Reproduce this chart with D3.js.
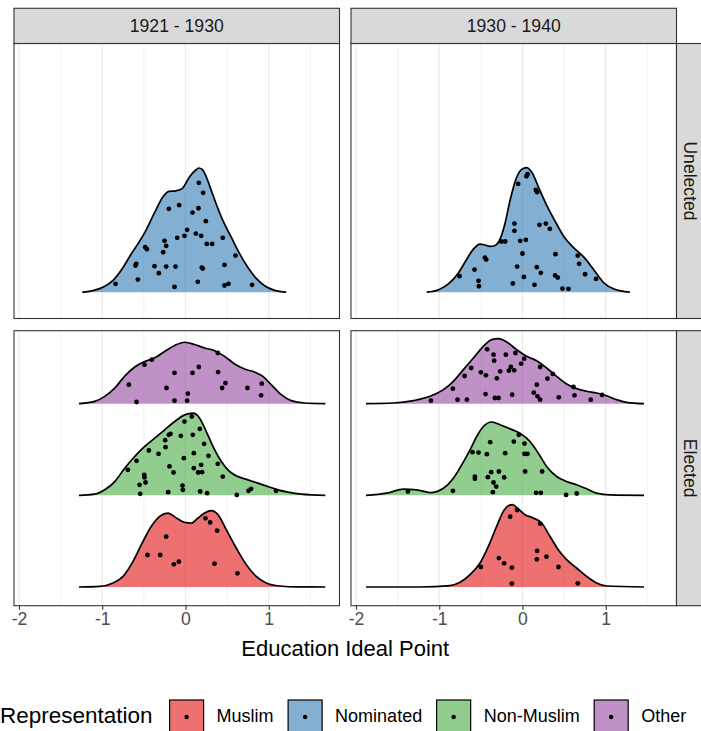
<!DOCTYPE html>
<html>
<head>
<meta charset="utf-8">
<title>Education Ideal Point</title>
<script src="https://cdn.jsdelivr.net/npm/d3@7"></script>
<style>
body { margin: 0; background: #fff; }
svg text { font-family: "Liberation Sans", Arial, sans-serif; }
</style>
</head>
<body>
<div id="chart"></div>
<script>
// facets, legend, ticks
var periods = ["1921 - 1930", "1930 - 1940"];
var chambers = ["Unelected", "Elected"];
var reps = ["Muslim", "Nominated", "Non-Muslim", "Other"];
var repColors = ["#E41A1C", "#377EB8", "#4DAF4A", "#984EA3"];
var xTicks = [-2, -1, 0, 1];
var xMinor = [-1.5, -0.5, 0.5, 1.5];

// density outlines: [ideal point, height in ridge units]
var densNominated1921 = [[-1.24,0],[-1.1,0.02],[-0.98,0.06],[-0.87,0.13],[-0.75,0.27],[-0.65,0.42],[-0.57,0.53],[-0.49,0.65],[-0.37,0.87],[-0.27,1.04],[-0.2,1.1],[-0.12,1.105],[-0.04,1.13],[0.05,1.26],[0.12,1.33],[0.16,1.355],[0.2,1.34],[0.24,1.28],[0.29,1.16],[0.37,0.96],[0.45,0.78],[0.55,0.6],[0.65,0.42],[0.75,0.27],[0.85,0.15],[0.95,0.07],[1.07,0.02],[1.21,0]];
var densNominated1930 = [[-1.15,0],[-1.0,0.03],[-0.89,0.09],[-0.77,0.21],[-0.67,0.36],[-0.59,0.47],[-0.51,0.525],[-0.45,0.515],[-0.39,0.5],[-0.33,0.51],[-0.27,0.58],[-0.21,0.75],[-0.15,1.0],[-0.08,1.23],[-0.01,1.34],[0.05,1.36],[0.11,1.31],[0.2,1.13],[0.3,0.93],[0.4,0.76],[0.51,0.59],[0.62,0.48],[0.74,0.38],[0.86,0.24],[0.98,0.1],[1.1,0.035],[1.29,0]];
var densOther1921 = [[-1.28,0],[-1.09,0.025],[-0.97,0.08],[-0.85,0.17],[-0.73,0.3],[-0.61,0.4],[-0.49,0.46],[-0.37,0.5],[-0.25,0.57],[-0.13,0.635],[-0.01,0.67],[0.11,0.645],[0.23,0.607],[0.35,0.578],[0.47,0.516],[0.59,0.433],[0.71,0.378],[0.83,0.345],[0.93,0.298],[1.03,0.207],[1.15,0.098],[1.27,0.033],[1.43,0.007],[1.68,0]];
var densNonMuslim1921 = [[-1.28,0],[-1.09,0.013],[-0.97,0.06],[-0.85,0.15],[-0.73,0.296],[-0.61,0.424],[-0.49,0.533],[-0.37,0.624],[-0.25,0.715],[-0.13,0.805],[-0.01,0.878],[0.09,0.896],[0.17,0.842],[0.25,0.696],[0.33,0.533],[0.43,0.369],[0.53,0.26],[0.63,0.205],[0.75,0.169],[0.87,0.133],[0.99,0.096],[1.11,0.06],[1.23,0.035],[1.39,0.013],[1.68,0]];
var densMuslim1921 = [[-1.28,0],[-1.03,0.007],[-0.87,0.044],[-0.75,0.116],[-0.63,0.28],[-0.51,0.498],[-0.41,0.662],[-0.31,0.771],[-0.21,0.807],[-0.11,0.753],[-0.01,0.705],[0.07,0.698],[0.15,0.753],[0.23,0.807],[0.31,0.833],[0.39,0.789],[0.49,0.625],[0.61,0.425],[0.73,0.244],[0.85,0.116],[0.97,0.044],[1.13,0.011],[1.35,0.001],[1.68,0]];
var densOther1930 = [[-1.88,0],[-1.55,0.007],[-1.31,0.033],[-1.11,0.08],[-0.95,0.153],[-0.83,0.244],[-0.71,0.371],[-0.59,0.498],[-0.47,0.625],[-0.37,0.698],[-0.29,0.709],[-0.19,0.673],[-0.07,0.589],[0.05,0.516],[0.17,0.469],[0.29,0.389],[0.41,0.298],[0.53,0.215],[0.65,0.164],[0.77,0.135],[0.89,0.116],[1.01,0.087],[1.13,0.044],[1.25,0.015],[1.46,0]];
var densNonMuslim1930 = [[-1.88,0],[-1.63,0.024],[-1.43,0.067],[-1.27,0.06],[-1.11,0.03],[-0.95,0.078],[-0.83,0.187],[-0.73,0.333],[-0.63,0.496],[-0.55,0.642],[-0.47,0.751],[-0.37,0.8],[-0.27,0.77],[-0.15,0.725],[-0.03,0.678],[0.09,0.587],[0.19,0.46],[0.29,0.315],[0.41,0.205],[0.53,0.151],[0.65,0.115],[0.77,0.071],[0.89,0.024],[1.05,0.005],[1.46,0]];
var densMuslim1930 = [[-1.88,0],[-1.23,0],[-0.87,0.015],[-0.75,0.051],[-0.63,0.135],[-0.51,0.262],[-0.41,0.444],[-0.31,0.662],[-0.23,0.825],[-0.17,0.887],[-0.12,0.898],[-0.05,0.851],[0.03,0.789],[0.13,0.753],[0.23,0.698],[0.33,0.553],[0.43,0.407],[0.53,0.298],[0.65,0.207],[0.77,0.116],[0.89,0.044],[1.01,0.011],[1.46,0]];

// legislators: [ideal point, jitter height in ridge units]
var ptsNominated1921 = [[-0.84,0.091],[-0.572,0.138],[-0.6,0.291],[-0.592,0.309],[-0.484,0.491],[-0.464,0.469],[-0.372,0.284],[-0.32,0.207],[-0.268,0.436],[-0.252,0.56],[-0.232,0.505],[-0.232,0.28],[-0.2,0.909],[-0.132,0.058],[-0.12,0.28],[-0.1,0.593],[-0.076,0.949],[-0.012,0.615],[0.02,0.68],[0.084,0.869],[0.124,0.64],[0.148,0.113],[0.156,0.916],[0.16,1.193],[0.188,0.615],[0.196,0.269],[0.208,0.258],[0.212,1.084],[0.244,0.775],[0.256,0.527],[0.32,0.527],[0.448,0.593],[0.468,0.298],[0.468,0.073],[0.516,0.091],[0.6,0.4],[0.8,0.08]];
var ptsNominated1930 = [[-0.756,0.175],[-0.576,0.247],[-0.528,0.124],[-0.524,0.065],[-0.452,0.378],[-0.436,0.356],[-0.256,0.553],[-0.208,0.553],[-0.116,0.095],[-0.096,0.749],[-0.096,0.669],[-0.064,0.28],[-0.052,1.182],[-0.028,0.56],[0,0.422],[0.016,0.167],[0.04,0.571],[0.048,1.265],[0.06,1.287],[0.144,0.08],[0.16,1.116],[0.176,1.091],[0.172,0.273],[0.204,0.735],[0.22,0.211],[0.28,0.749],[0.328,0.691],[0.392,0.182],[0.396,0.415],[0.424,0.16],[0.48,0.04],[0.552,0.036],[0.664,0.4],[0.68,0.309],[0.752,0.196],[0.884,0.145]];
var ptsOther1921 = [[-0.68,0.207],[-0.588,0.018],[-0.492,0.425],[-0.404,0.48],[-0.228,0.171],[-0.132,0.335],[-0.132,0.033],[0.02,0.033],[0.028,0.109],[0.084,0.335],[0.16,0.4],[0.388,0.553],[0.392,0.345],[0.44,0.171],[0.48,0.225],[0.744,0.171],[0.908,0.091],[0.916,0.218]];
var ptsNonMuslim1921 = [[-0.692,0.278],[-0.588,0.376],[-0.552,0.115],[-0.544,0.016],[-0.496,0.224],[-0.492,0.195],[-0.48,0.14],[-0.44,0.489],[-0.324,0.453],[-0.244,0.602],[-0.24,0.525],[-0.2,0.66],[-0.18,0.671],[-0.192,0.315],[-0.144,0.249],[-0.208,0.035],[-0.056,0.649],[-0.036,0.107],[-0.032,0.06],[-0.012,0.805],[-0.02,0.405],[0.076,0.86],[0.088,0.66],[0.1,0.46],[0.1,0.296],[0.152,0.249],[0.176,0.042],[0.172,0.725],[0.188,0.333],[0.2,0.253],[0.224,0.562],[0.26,0.024],[0.276,0.431],[0.388,0.344],[0.448,0.205],[0.616,0.005],[0.756,0.049],[0.788,0.071],[1.088,0.049]];
var ptsMuslim1921 = [[-0.456,0.349],[-0.304,0.349],[-0.232,0.549],[-0.14,0.247],[-0.08,0.276],[0.24,0.749],[0.296,0.705],[0.348,0.255],[0.38,0.615],[0.624,0.149]];
var ptsOther1930 = [[-1.1,0.033],[-0.836,0.164],[-0.78,0.044],[-0.696,0.302],[-0.668,0.044],[-0.616,0.389],[-0.5,0.342],[-0.44,0.309],[-0.444,0.105],[-0.424,0.593],[-0.348,0.535],[-0.34,0.469],[-0.332,0.062],[-0.308,0.276],[-0.288,0.062],[-0.268,0.353],[-0.2,0.535],[-0.164,0.36],[-0.14,0.4],[-0.124,0.098],[-0.1,0.364],[-0.084,0.553],[-0.016,0.436],[0.02,0.491],[0.136,0.12],[0.172,0.207],[0.18,0.08],[0.212,0.044],[0.212,0.4],[0.3,0.273],[0.364,0.324],[0.436,0.069],[0.612,0.182],[0.624,0.091],[0.82,0.044],[0.956,0.095]];
var ptsNonMuslim1930 = [[-1.376,0.042],[-0.836,0.049],[-0.6,0.471],[-0.528,0.467],[-0.428,0.449],[-0.388,0.58],[-0.572,0.205],[-0.572,0.18],[-0.416,0.198],[-0.376,0.253],[-0.348,0.14],[-0.316,0.096],[-0.356,0.035],[-0.284,0.26],[-0.22,0.195],[-0.208,0.46],[-0.104,0.587],[-0.044,0.66],[0.024,0.565],[0.024,0.453],[0.06,0.453],[0.032,0.26],[0.164,0.027],[0.22,0.027],[0.236,0.26],[0.524,0.005],[0.652,0.02]];
var ptsMuslim1930 = [[-0.5,0.218],[-0.284,0.316],[-0.22,0.258],[-0.148,0.767],[-0.128,0.211],[-0.128,0.036],[-0.064,0.84],[0.176,0.393],[0.172,0.302],[0.212,0.691],[0.288,0.331],[0.432,0.218],[0.664,0.04]];

// one entry per ridge; level = position on the discrete y axis
var ridges = [
  {col: 0, row: 0, rep: "Nominated", level: 1, dens: densNominated1921, pts: ptsNominated1921},
  {col: 1, row: 0, rep: "Nominated", level: 1, dens: densNominated1930, pts: ptsNominated1930},
  {col: 0, row: 1, rep: "Other", level: 3, dens: densOther1921, pts: ptsOther1921},
  {col: 0, row: 1, rep: "Non-Muslim", level: 2, dens: densNonMuslim1921, pts: ptsNonMuslim1921},
  {col: 0, row: 1, rep: "Muslim", level: 1, dens: densMuslim1921, pts: ptsMuslim1921},
  {col: 1, row: 1, rep: "Other", level: 3, dens: densOther1930, pts: ptsOther1930},
  {col: 1, row: 1, rep: "Non-Muslim", level: 2, dens: densNonMuslim1930, pts: ptsNonMuslim1930},
  {col: 1, row: 1, rep: "Muslim", level: 1, dens: densMuslim1930, pts: ptsMuslim1930}
];

var W = 701, H = 731;
var panelX = [14, 351], panelW = 325.5;
var panelY = [43.5, 330.7], panelH = 275;
var stripH = 35.2, stripW = 35.5;
var yDomains = [[0.713, 3.713], [0.796, 3.796]];
var fillAlpha = 0.62;

var color = d3.scaleOrdinal().domain(reps).range(repColors);

var svg = d3.select("#chart").append("svg")
    .attr("width", W)
    .attr("height", H)
    .style("display", "block");

svg.append("rect").attr("width", W).attr("height", H).attr("fill", "#fff");

function xScale(c) {
  return d3.scaleLinear().domain([-2.06, 1.85]).range([panelX[c], panelX[c] + panelW]);
}
function yScale(r) {
  return d3.scaleLinear().domain(yDomains[r]).range([panelY[r] + panelH, panelY[r]]);
}

// panels: background + grid
for (var r = 0; r < 2; r++) {
  for (var c = 0; c < 2; c++) {
    var x = xScale(c);
    var g = svg.append("g");
    g.selectAll("line.minor").data(xMinor).enter().append("line")
      .attr("x1", d => x(d)).attr("x2", d => x(d))
      .attr("y1", panelY[r]).attr("y2", panelY[r] + panelH)
      .attr("stroke", "#EBEBEB").attr("stroke-width", 0.6);
    g.selectAll("line.major").data(xTicks).enter().append("line")
      .attr("x1", d => x(d)).attr("x2", d => x(d))
      .attr("y1", panelY[r]).attr("y2", panelY[r] + panelH)
      .attr("stroke", "#EBEBEB").attr("stroke-width", 1.2);
  }
}

// ridges, back to front
ridges.forEach(function(rd) {
  var x = xScale(rd.col), y = yScale(rd.row);
  var g = svg.append("g");
  var area = d3.area()
      .x(d => x(d[0]))
      .y0(y(rd.level))
      .y1(d => y(rd.level + d[1]))
      .curve(d3.curveMonotoneX);
  var line = d3.line()
      .x(d => x(d[0]))
      .y(d => y(rd.level + d[1]))
      .curve(d3.curveMonotoneX);
  g.append("path").datum(rd.dens)
    .attr("d", area)
    .attr("fill", color(rd.rep))
    .attr("fill-opacity", fillAlpha);
  g.selectAll("circle").data(rd.pts).enter().append("circle")
    .attr("cx", d => x(d[0]))
    .attr("cy", d => y(rd.level + d[1]))
    .attr("r", 2.4)
    .attr("fill", "#000");
  g.append("path").datum(rd.dens)
    .attr("d", line)
    .attr("fill", "none")
    .attr("stroke", "#000")
    .attr("stroke-width", 1.7);
});

// panel borders
for (var r = 0; r < 2; r++) {
  for (var c = 0; c < 2; c++) {
    svg.append("rect")
      .attr("x", panelX[c]).attr("y", panelY[r])
      .attr("width", panelW).attr("height", panelH)
      .attr("fill", "none").attr("stroke", "#333333").attr("stroke-width", 1.1);
  }
}

// column strips
periods.forEach(function(p, c) {
  svg.append("rect")
    .attr("x", panelX[c]).attr("y", panelY[0] - stripH)
    .attr("width", panelW).attr("height", stripH)
    .attr("fill", "#D9D9D9").attr("stroke", "#333333").attr("stroke-width", 1.1);
  svg.append("text")
    .attr("x", panelX[c] + panelW / 2)
    .attr("y", panelY[0] - stripH / 2)
    .attr("dy", "0.35em")
    .attr("text-anchor", "middle")
    .attr("font-size", 17.6)
    .attr("fill", "#1A1A1A")
    .text(p);
});

// row strips (cut by the right edge, text kept inside)
chambers.forEach(function(ch, r) {
  var sx = panelX[1] + panelW;
  svg.append("rect")
    .attr("x", sx).attr("y", panelY[r])
    .attr("width", stripW).attr("height", panelH)
    .attr("fill", "#D9D9D9").attr("stroke", "#333333").attr("stroke-width", 1.1);
  var cy = panelY[r] + panelH / 2;
  svg.append("text")
    .attr("transform", "translate(" + (sx + 7.5) + "," + cy + ") rotate(90)")
    .attr("text-anchor", "middle")
    .attr("font-size", 17.6)
    .attr("fill", "#1A1A1A")
    .text(ch);
});

// x axes under the bottom row
[0, 1].forEach(function(c) {
  var ax = svg.append("g")
    .attr("transform", "translate(0," + (panelY[1] + panelH) + ")")
    .call(d3.axisBottom(xScale(c)).tickValues(xTicks).tickSize(4).tickPadding(3).tickFormat(d3.format("d")));
  ax.select(".domain").remove();
  ax.selectAll(".tick line").attr("stroke", "#333333").attr("stroke-width", 1.1);
  ax.selectAll(".tick text")
    .attr("font-size", 17.6)
    .attr("fill", "#4D4D4D")
    .style("font-family", "'Liberation Sans', Arial, sans-serif")
    .text(d => d < 0 ? "-" + Math.abs(d) : d);
});

svg.append("text")
  .attr("x", (panelX[0] + panelX[1] + panelW) / 2)
  .attr("y", 656)
  .attr("text-anchor", "middle")
  .attr("font-size", 22)
  .attr("fill", "#000")
  .text("Education Ideal Point");

// legend
var leg = svg.append("g");
var legTitle = leg.append("text")
  .attr("x", 0).attr("y", 723)
  .attr("font-size", 22.5)
  .attr("fill", "#000")
  .text("Representation");
var lx = legTitle.node().getComputedTextLength() + 17;
var keyS = 34, keyTop = 700;
reps.forEach(function(rep) {
  leg.append("rect")
    .attr("x", lx).attr("y", keyTop)
    .attr("width", keyS).attr("height", keyS)
    .attr("fill", color(rep)).attr("fill-opacity", fillAlpha)
    .attr("stroke", "#000").attr("stroke-width", 1.2);
  leg.append("circle")
    .attr("cx", lx + keyS / 2).attr("cy", keyTop + keyS / 2)
    .attr("r", 2.2).attr("fill", "#000");
  var t = leg.append("text")
    .attr("x", lx + keyS + 13).attr("y", 722)
    .attr("font-size", 18)
    .attr("fill", "#000")
    .text(rep);
  lx += keyS + 13 + t.node().getComputedTextLength() + 14.5;
});
</script>
</body>
</html>
